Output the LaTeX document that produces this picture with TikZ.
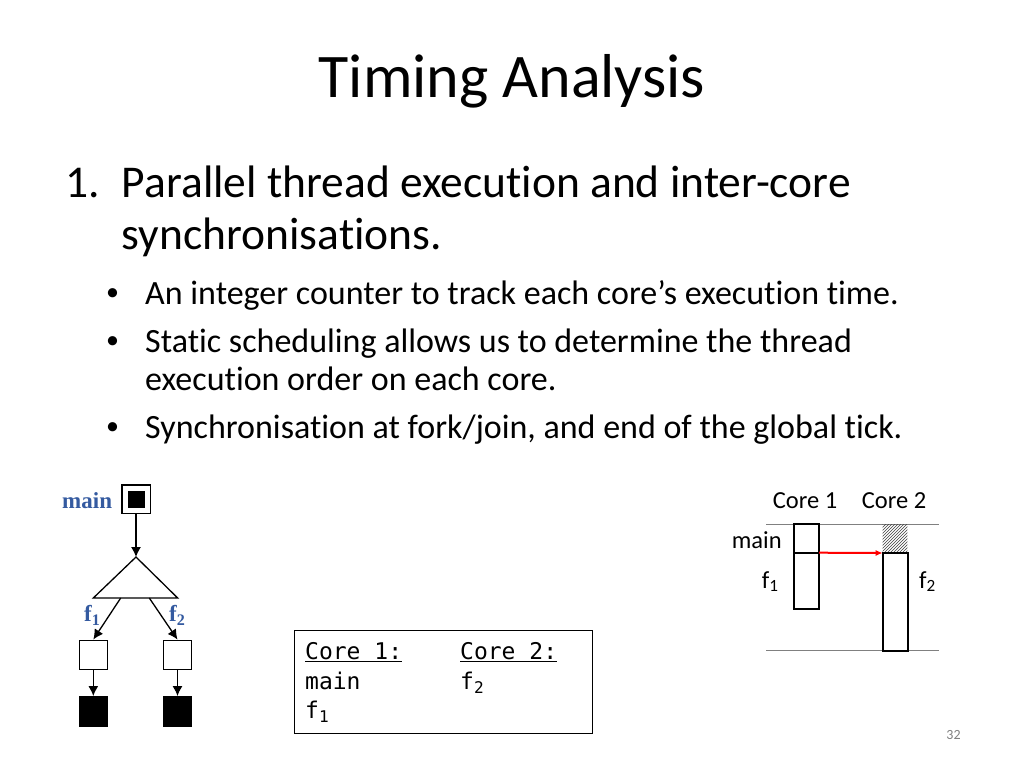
\documentclass[tikz,border=0pt]{standalone}
\usepackage{fontspec}
\setmainfont{Carlito}[Ligatures=CommonOff]
\newfontfamily\monof{DejaVu Sans Mono}
\newfontfamily\serf{Liberation Serif}
\usetikzlibrary{arrows.meta,patterns}
\definecolor{lblue}{RGB}{52,90,160}
\newcommand\fs[1]{\fontsize{#1}{#1}\selectfont}
\begin{document}
\begin{tikzpicture}[x=1pt,y=-1pt,
  txt/.style={inner sep=0pt,anchor=base west},
  lbl/.style={txt,font=\serf\bfseries\fs{23},text=lblue},
  ctxt/.style={txt,font=\fs{24.5}},
  mtxt/.style={txt,font=\monof\fs{23}},
  tnode/.style={draw,line width=1.3pt,inner sep=0pt,minimum width=28pt,minimum height=29pt},
  bnode/.style={tnode,fill=black},
  arr/.style={line width=1.3pt,-{Latex[length=10pt,width=10pt]}},
  core/.style={draw,line width=2.2pt,inner sep=0pt,outer sep=0pt,anchor=north west,minimum width=25pt},
  rule/.style={draw=gray,line width=1pt},
  body/.style={txt,font=\fs{45.5}},
  sub/.style={txt,font=\fs{34}},
  bul/.style={inner sep=0pt,font=\fs{26}}]
\useasboundingbox[fill=white] (0,0) rectangle (1024,768);
% title
\node[inner sep=0pt,anchor=base,font=\fs{62}] (title) at (512,97) {Timing Analysis};
% body
\node[body] (n1) at (65,197.3) {1.};
\node[body] (l1) at (121.7,197.3) {Parallel thread execution and inter-core};
\node[body] (l2) at (121.7,249.5) {synchronisations.};
\node[bul] (b1) at (112.5,295) {\textbullet};
\node[sub] (t1) at (145,304.3) {An integer counter to track each core’s execution time.};
\node[bul] (b2) at (112.5,343) {\textbullet};
\node[sub] (t2) at (145,352.3) {Static scheduling allows us to determine the thread};
\node[sub] (t2b) at (145,390) {execution order on each core.};
\node[bul] (b3) at (112.5,429) {\textbullet};
\node[sub] (t3) at (145,438.3) {Synchronisation at fork/join, and end of the global tick.};
% left graph
\node[lbl] (mainlbl) at (62,508) {main};
\node[draw,line width=1.3pt,inner sep=0pt,minimum size=28.3pt] (mainbox) at (136,499) {};
\node[fill=black,inner sep=0pt,minimum size=17pt] (maininner) at (mainbox.center) {};
\coordinate (apex) at (136,557);
\coordinate (bl) at (93.3,598);
\coordinate (br) at (177.7,598);
\coordinate (fl) at (120.7,598);
\coordinate (fr) at (149.3,598);
\draw[line width=1.3pt,line join=miter] (apex) -- (bl) -- (br) -- cycle;
\draw[arr] (mainbox.south) -- (apex);
\node[tnode] (lb) at (93.3,654.7) {};
\node[tnode] (rb) at (177.5,654.7) {};
\node[bnode,minimum height=30pt] (lbb) at (93.3,711.7) {};
\node[bnode,minimum height=30pt] (rbb) at (177.5,711.7) {};
\draw[arr] (fl) -- (lb.north);
\draw[arr] (fr) -- (rb.north);
\draw[arr] (lb.south) -- (lbb.north);
\draw[arr] (rb.south) -- (rbb.north);
\node[lbl] (f1lbl) at (84,621.7) {f\textsubscript{1}};
\node[lbl] (f2lbl) at (169,621.7) {f\textsubscript{2}};
% schedule box
\node[draw,line width=1pt,inner sep=0pt,minimum width=298.7pt,minimum height=103.3pt] (sched) at (443.35,681.65) {};
\node[mtxt] (c1h) at (305,659.3) {\underline{Core 1:}};
\node[mtxt] (c2h) at (460,659.3) {\underline{Core 2:}};
\node[mtxt] (c1a) at (305,689.3) {main};
\node[mtxt] (c2a) at (460,689.3) {f\textsubscript{2}};
\node[mtxt] (c1b) at (305,718.3) {f\textsubscript{1}};
% core timeline
\node[ctxt] (core1) at (772.7,508) {Core 1};
\node[ctxt] (core2) at (861.7,508) {Core 2};
\coordinate (tl) at (766,524);
\coordinate (tr) at (939.3,524);
\coordinate (bl2) at (766,650.7);
\coordinate (br2) at (939.3,650.7);
\draw[rule] (tl) -- (tr);
\draw[rule] (bl2) -- (br2);
\fill[pattern=north east lines,pattern color=darkgray] (882.7,524) rectangle (907.3,553);
\node[core,minimum height=28.7pt] (m1) at (794,524) {};
\node[core,minimum height=56.6pt] (f1b) at (794,552.7) {};
\node[core,minimum height=97.7pt] (f2b) at (882.7,553) {};
\draw[red,line width=2pt,-{Latex[length=7pt,width=6pt]}] (m1.south east) -- (f2b.north west);
\node[ctxt] (mainr) at (731.7,548.3) {main};
\node[ctxt] (f1r) at (761.7,588) {f\textsubscript{1}};
\node[ctxt] (f2r) at (919,588) {f\textsubscript{2}};
% page number
\node[inner sep=0pt,anchor=base,font=\fs{14},text=gray] (pnum) at (953.5,739) {32};
\end{tikzpicture}
\end{document}
